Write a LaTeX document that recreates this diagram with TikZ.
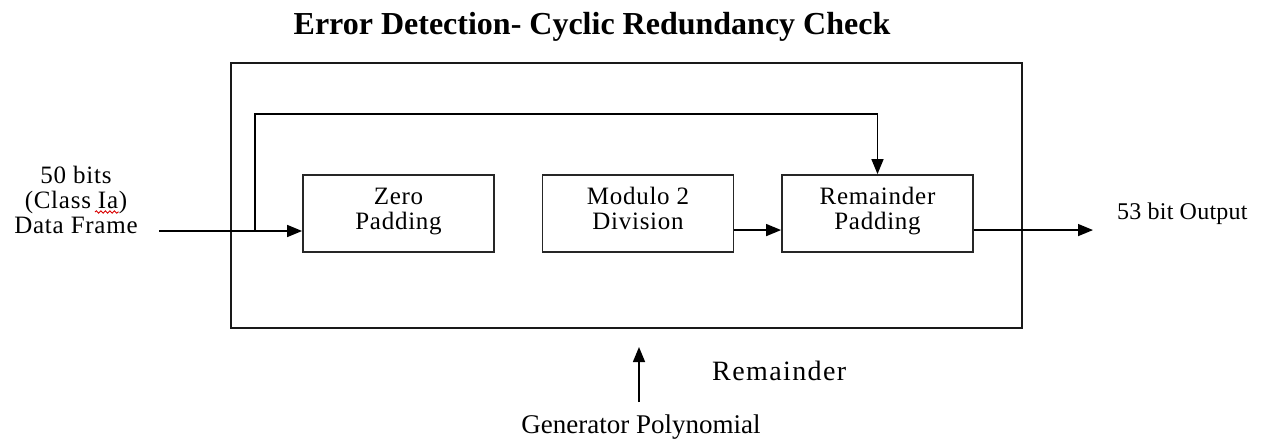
\documentclass[tikz,border=0pt]{standalone}
\usepackage{fontspec}
\setmainfont{Liberation Serif}
\newfontfamily\trackedfont{Liberation Serif}[LetterSpace=3]
\newfontfamily\widetracked{Liberation Serif}[LetterSpace=5]
\newfontfamily\lighttracked{Liberation Serif}[LetterSpace=1]
\usetikzlibrary{arrows.meta,calc,decorations.pathmorphing}

\begin{document}
\begin{tikzpicture}[x=1pt,y=-1pt,
  frame/.style={draw=black!90, line width=1.8pt, inner sep=0pt},
  stage/.style={draw=black!85, line width=1.8pt, inner sep=0pt,
    minimum width=191pt, minimum height=77pt},
  % two-line stage captions: fixed box so every caption sits on the same baselines
  stagetext/.style={font=\trackedfont\fontsize{25}{25}\selectfont, align=center,
    inner sep=0pt, text height=43pt, text depth=6pt},
  wire/.style={line width=1.5pt, -{Triangle[length=15pt,width=12pt]}},
  sidetext/.style={font=\trackedfont\fontsize{25}{25}\selectfont, align=center, inner sep=0pt},
  outtext/.style={font=\lighttracked\fontsize{24}{26}\selectfont, inner sep=0pt},
  remtext/.style={font=\widetracked\fontsize{28}{30}\selectfont, inner sep=0pt},
  gentext/.style={font=\fontsize{27}{30}\selectfont, inner sep=0pt},
  titletext/.style={font=\bfseries\fontsize{32}{38}\selectfont, inner sep=0pt}
]
\useasboundingbox (0,0) rectangle (1277,439);

% title
\node[titletext, anchor=base] (title) at (592,34) {Error Detection- Cyclic Redundancy Check};

% enclosing CRC unit
\node[frame, minimum width=791pt, minimum height=265pt] (unit) at (626.5,195.5) {};

% processing stages
\node[stage, label={[stagetext, yshift=3pt]center:Zero\\Padding}] (zero) at (398.5,213.5) {};
\node[stage, label={[stagetext, yshift=3pt]center:Modulo 2\\Division}] (mod) at (638,213.5) {};
\node[stage, label={[stagetext, yshift=3pt]center:Remainder\\Padding}] (rem) at (877.5,213.5) {};

% input description
\node[sidetext] (datain) at (76,200) {50 bits\\(Class Ia)\\Data Frame};
\draw[red!85!black, line width=0.9pt, decorate,
  decoration={snake, amplitude=1.2pt, segment length=4.5pt}] (95,212) -- (119,212);

% input path and bypass to the remainder stage
\coordinate (src) at (159,231);
\coordinate (tap) at (255,231);
\draw[wire] (src) -- (src -| zero.west);
\draw[wire] (tap) -- ++(0,-117) -| (rem.north);

% division result into remainder padding
\coordinate (mr) at ($(mod.north east)!0.71!(mod.south east)$);
\draw[wire] (mr) -- (mr -| rem.west);

% output
\coordinate (ro) at ($(rem.north east)!0.71!(rem.south east)$);
\coordinate (outtip) at (1093,0);
\draw[wire] (ro) -- (ro -| outtip);
\node[outtext, anchor=base west] (output) at (1117,219) {53 bit Output};

% generator polynomial input
\node[gentext, anchor=base] (genpoly) at (641,433) {Generator Polynomial};
\coordinate (gentip) at (639,347);
\draw[wire] ([yshift=12pt]genpoly.north -| gentip) -- (gentip);
\node[remtext, anchor=base west] (remainder) at (712,380) {Remainder};

\end{tikzpicture}
\end{document}
